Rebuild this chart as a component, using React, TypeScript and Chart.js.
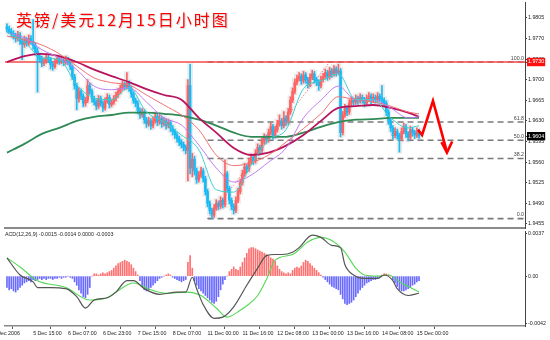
import React, { useEffect, useRef } from "react";
import { Chart, registerables } from "chart.js";

Chart.register(...registerables);

// ---------- price candles (hourly GBP/USD) ----------
const OPEN = [
  1.9790, 1.9786, 1.9782, 1.9778, 1.9774, 1.9770, 1.9776, 1.9765, 1.9760, 1.9768,
  1.9762, 1.9770, 1.9765, 1.9758, 1.9748, 1.9740, 1.9735, 1.9728, 1.9732, 1.9738,
  1.9734, 1.9726, 1.9722, 1.9730, 1.9736, 1.9731, 1.9733, 1.9729, 1.9735, 1.9730,
  1.9722, 1.9705, 1.9690, 1.9668, 1.9680, 1.9672, 1.9660, 1.9665, 1.9690, 1.9680,
  1.9668, 1.9662, 1.9655, 1.9668, 1.9660, 1.9652, 1.9664, 1.9670, 1.9658, 1.9662,
  1.9668, 1.9674, 1.9680, 1.9686, 1.9692, 1.9688, 1.9694, 1.9685, 1.9676, 1.9665,
  1.9660, 1.9648, 1.9640, 1.9645, 1.9632, 1.9625, 1.9630, 1.9622, 1.9630, 1.9638,
  1.9628, 1.9634, 1.9625, 1.9630, 1.9622, 1.9627, 1.9618, 1.9612, 1.9606, 1.9600,
  1.9594, 1.9590, 1.9585, 1.9580, 1.9690, 1.9550, 1.9565, 1.9545, 1.9530, 1.9538,
  1.9545, 1.9532, 1.9510, 1.9490, 1.9478, 1.9470, 1.9482, 1.9490, 1.9485, 1.9495,
  1.9488, 1.9540, 1.9515, 1.9495, 1.9485, 1.9478, 1.9495, 1.9510, 1.9525, 1.9540,
  1.9552, 1.9548, 1.9560, 1.9568, 1.9562, 1.9575, 1.9585, 1.9580, 1.9595, 1.9602,
  1.9598, 1.9610, 1.9620, 1.9605, 1.9615, 1.9625, 1.9630, 1.9622, 1.9635, 1.9628,
  1.9645, 1.9665, 1.9680, 1.9695, 1.9702, 1.9706, 1.9698, 1.9708, 1.9700, 1.9692,
  1.9704, 1.9710, 1.9700, 1.9696, 1.9690, 1.9700, 1.9705, 1.9712, 1.9705, 1.9715,
  1.9710, 1.9718, 1.9712, 1.9715, 1.9610, 1.9640, 1.9652, 1.9645, 1.9660, 1.9665,
  1.9662, 1.9668, 1.9664, 1.9670, 1.9666, 1.9660, 1.9668, 1.9672, 1.9665, 1.9670,
  1.9666, 1.9672, 1.9668, 1.9665, 1.9660, 1.9645, 1.9630, 1.9618, 1.9605, 1.9612,
  1.9605, 1.9600, 1.9612, 1.9620, 1.9608, 1.9602, 1.9615, 1.9610, 1.9606, 1.9612,
];
const HIGH = [
  1.9795, 1.9791, 1.9787, 1.9783, 1.9779, 1.9782, 1.9780, 1.9770, 1.9774, 1.9772,
  1.9776, 1.9775, 1.9802, 1.9762, 1.9754, 1.9745, 1.9740, 1.9737, 1.9743, 1.9742,
  1.9738, 1.9730, 1.9735, 1.9741, 1.9739, 1.9738, 1.9736, 1.9740, 1.9738, 1.9733,
  1.9725, 1.9709, 1.9694, 1.9686, 1.9684, 1.9676, 1.9670, 1.9700, 1.9694, 1.9684,
  1.9672, 1.9666, 1.9673, 1.9672, 1.9664, 1.9669, 1.9676, 1.9674, 1.9667, 1.9673,
  1.9679, 1.9685, 1.9691, 1.9698, 1.9696, 1.9712, 1.9698, 1.9689, 1.9680, 1.9669,
  1.9664, 1.9652, 1.9651, 1.9649, 1.9636, 1.9636, 1.9634, 1.9636, 1.9644, 1.9642,
  1.9640, 1.9638, 1.9636, 1.9634, 1.9633, 1.9631, 1.9622, 1.9616, 1.9610, 1.9604,
  1.9598, 1.9594, 1.9589, 1.9700, 1.9726, 1.9575, 1.9570, 1.9550, 1.9544, 1.9551,
  1.9549, 1.9536, 1.9514, 1.9494, 1.9482, 1.9488, 1.9496, 1.9494, 1.9501, 1.9499,
  1.9564, 1.9544, 1.9519, 1.9499, 1.9489, 1.9501, 1.9516, 1.9531, 1.9546, 1.9558,
  1.9556, 1.9566, 1.9574, 1.9572, 1.9581, 1.9591, 1.9589, 1.9601, 1.9608, 1.9606,
  1.9616, 1.9626, 1.9624, 1.9621, 1.9631, 1.9640, 1.9634, 1.9646, 1.9639, 1.9651,
  1.9671, 1.9686, 1.9701, 1.9708, 1.9712, 1.9710, 1.9714, 1.9712, 1.9704, 1.9710,
  1.9716, 1.9714, 1.9704, 1.9700, 1.9706, 1.9711, 1.9718, 1.9716, 1.9721, 1.9719,
  1.9724, 1.9722, 1.9726, 1.9719, 1.9646, 1.9658, 1.9656, 1.9666, 1.9671, 1.9669,
  1.9674, 1.9672, 1.9676, 1.9674, 1.9670, 1.9674, 1.9678, 1.9676, 1.9676, 1.9674,
  1.9678, 1.9676, 1.9690, 1.9669, 1.9664, 1.9649, 1.9634, 1.9622, 1.9618, 1.9616,
  1.9609, 1.9618, 1.9626, 1.9624, 1.9612, 1.9621, 1.9619, 1.9614, 1.9618, 1.9616,
];
const LOW = [
  1.9781, 1.9778, 1.9773, 1.9769, 1.9764, 1.9766, 1.9760, 1.9734, 1.9755, 1.9757,
  1.9758, 1.9760, 1.9752, 1.9742, 1.9679, 1.9730, 1.9722, 1.9724, 1.9728, 1.9729,
  1.9718, 1.9716, 1.9719, 1.9727, 1.9726, 1.9727, 1.9724, 1.9726, 1.9725, 1.9717,
  1.9700, 1.9684, 1.9649, 1.9662, 1.9666, 1.9654, 1.9655, 1.9661, 1.9675, 1.9662,
  1.9657, 1.9649, 1.9651, 1.9655, 1.9646, 1.9648, 1.9660, 1.9652, 1.9654, 1.9658,
  1.9664, 1.9670, 1.9676, 1.9682, 1.9683, 1.9684, 1.9680, 1.9670, 1.9660, 1.9654,
  1.9642, 1.9634, 1.9636, 1.9626, 1.9619, 1.9621, 1.9616, 1.9618, 1.9626, 1.9622,
  1.9624, 1.9619, 1.9621, 1.9616, 1.9618, 1.9612, 1.9606, 1.9600, 1.9594, 1.9588,
  1.9584, 1.9579, 1.9574, 1.9528, 1.9540, 1.9535, 1.9538, 1.9524, 1.9526, 1.9534,
  1.9526, 1.9504, 1.9484, 1.9472, 1.9464, 1.9466, 1.9478, 1.9479, 1.9481, 1.9482,
  1.9484, 1.9509, 1.9489, 1.9479, 1.9472, 1.9474, 1.9491, 1.9506, 1.9521, 1.9536,
  1.9542, 1.9544, 1.9556, 1.9556, 1.9558, 1.9571, 1.9574, 1.9576, 1.9591, 1.9592,
  1.9594, 1.9606, 1.9599, 1.9601, 1.9611, 1.9621, 1.9616, 1.9618, 1.9622, 1.9624,
  1.9641, 1.9661, 1.9676, 1.9691, 1.9698, 1.9692, 1.9694, 1.9694, 1.9686, 1.9688,
  1.9700, 1.9694, 1.9690, 1.9682, 1.9686, 1.9696, 1.9701, 1.9699, 1.9701, 1.9704,
  1.9706, 1.9706, 1.9708, 1.9603, 1.9606, 1.9636, 1.9639, 1.9641, 1.9656, 1.9656,
  1.9658, 1.9658, 1.9660, 1.9660, 1.9654, 1.9656, 1.9664, 1.9659, 1.9661, 1.9660,
  1.9662, 1.9662, 1.9659, 1.9654, 1.9639, 1.9624, 1.9612, 1.9599, 1.9601, 1.9599,
  1.9577, 1.9596, 1.9608, 1.9602, 1.9596, 1.9598, 1.9604, 1.9600, 1.9602, 1.9600,
];
const CLOSE = [
  1.9786, 1.9782, 1.9778, 1.9774, 1.9770, 1.9776, 1.9765, 1.9760, 1.9768, 1.9762,
  1.9770, 1.9765, 1.9758, 1.9748, 1.9740, 1.9735, 1.9728, 1.9732, 1.9738, 1.9734,
  1.9726, 1.9722, 1.9730, 1.9736, 1.9731, 1.9733, 1.9729, 1.9735, 1.9730, 1.9722,
  1.9705, 1.9690, 1.9668, 1.9680, 1.9672, 1.9660, 1.9665, 1.9690, 1.9680, 1.9668,
  1.9662, 1.9655, 1.9668, 1.9660, 1.9652, 1.9664, 1.9670, 1.9658, 1.9662, 1.9668,
  1.9674, 1.9680, 1.9686, 1.9692, 1.9688, 1.9694, 1.9685, 1.9676, 1.9665, 1.9660,
  1.9648, 1.9640, 1.9645, 1.9632, 1.9625, 1.9630, 1.9622, 1.9630, 1.9638, 1.9628,
  1.9634, 1.9625, 1.9630, 1.9622, 1.9627, 1.9618, 1.9612, 1.9606, 1.9600, 1.9594,
  1.9590, 1.9585, 1.9580, 1.9690, 1.9550, 1.9565, 1.9545, 1.9530, 1.9538, 1.9545,
  1.9532, 1.9510, 1.9490, 1.9478, 1.9470, 1.9482, 1.9490, 1.9485, 1.9495, 1.9488,
  1.9540, 1.9515, 1.9495, 1.9485, 1.9478, 1.9495, 1.9510, 1.9525, 1.9540, 1.9552,
  1.9548, 1.9560, 1.9568, 1.9562, 1.9575, 1.9585, 1.9580, 1.9595, 1.9602, 1.9598,
  1.9610, 1.9620, 1.9605, 1.9615, 1.9625, 1.9630, 1.9622, 1.9635, 1.9628, 1.9645,
  1.9665, 1.9680, 1.9695, 1.9702, 1.9706, 1.9698, 1.9708, 1.9700, 1.9692, 1.9704,
  1.9710, 1.9700, 1.9696, 1.9690, 1.9700, 1.9705, 1.9712, 1.9705, 1.9715, 1.9710,
  1.9718, 1.9712, 1.9715, 1.9610, 1.9640, 1.9652, 1.9645, 1.9660, 1.9665, 1.9662,
  1.9668, 1.9664, 1.9670, 1.9666, 1.9660, 1.9668, 1.9672, 1.9665, 1.9670, 1.9666,
  1.9672, 1.9668, 1.9665, 1.9660, 1.9645, 1.9630, 1.9618, 1.9605, 1.9612, 1.9605,
  1.9600, 1.9612, 1.9620, 1.9608, 1.9602, 1.9615, 1.9610, 1.9606, 1.9612, 1.9604,
];

// ---------- moving averages, read at every 8th bar ----------
const MA_INDEX = [0, 8, 16, 24, 32, 40, 48, 56, 64, 72, 80, 88, 96, 104, 112, 120, 128, 136, 144, 152, 160, 168, 176, 184, 189];
const MA_GREEN = [1.9576, 1.9591, 1.9608, 1.9618, 1.9630, 1.9637, 1.9640, 1.9644, 1.9644, 1.9642, 1.9639, 1.9632, 1.9622, 1.9610, 1.9603, 1.9603, 1.9603, 1.9610, 1.9620, 1.9628, 1.9632, 1.9633, 1.9635, 1.9635, 1.9635];
const MA_CRIMSON = [1.9730, 1.9740, 1.9744, 1.9740, 1.9730, 1.9717, 1.9706, 1.9696, 1.9684, 1.9674, 1.9666, 1.9635, 1.9610, 1.9584, 1.9572, 1.9576, 1.9588, 1.9606, 1.9630, 1.9652, 1.9655, 1.9657, 1.9652, 1.9644, 1.9637];
const MA_SALMON = [1.9774, 1.9768, 1.9759, 1.9744, 1.9723, 1.9703, 1.9695, 1.9691, 1.9674, 1.9657, 1.9640, 1.9615, 1.9572, 1.9554, 1.9559, 1.9572, 1.9594, 1.9617, 1.9642, 1.9671, 1.9666, 1.9662, 1.9655, 1.9645, 1.9642];
const MA_VIOLET = [1.9780, 1.9771, 1.9751, 1.9737, 1.9717, 1.9689, 1.9683, 1.9686, 1.9662, 1.9635, 1.9623, 1.9589, 1.9550, 1.9526, 1.9538, 1.9560, 1.9584, 1.9635, 1.9665, 1.9689, 1.9666, 1.9666, 1.9652, 1.9635, 1.9637];
const MA_CYAN = [1.9781, 1.9764, 1.9737, 1.9734, 1.9691, 1.9669, 1.9666, 1.9686, 1.9645, 1.9628, 1.9606, 1.9581, 1.9513, 1.9509, 1.9555, 1.9598, 1.9615, 1.9685, 1.9698, 1.9710, 1.9666, 1.9666, 1.9635, 1.9618, 1.9622];

// ---------- MACD(12,26,9) ----------
const MACD_HIST = [
  -0.0010, -0.0012, -0.0011, -0.0013, -0.0014, -0.0012, -0.0010, -0.0008, -0.0006, -0.0005,
  -0.0004, -0.0005, -0.0003, -0.0004, -0.0003, -0.0002, -0.0003, -0.0002, -0.0003, -0.0002,
  -0.0002, -0.0003, -0.0002, -0.0002, -0.0001, -0.0002, -0.0001, -0.0001, 0.0000, -0.0001,
  -0.0002, -0.0005, -0.0008, -0.0012, -0.0015, -0.0018, -0.0019, -0.0016, -0.0010, 0.0000,
  0.0002, 0.0002, 0.0001, 0.0002, 0.0003, 0.0002, 0.0003, 0.0004, 0.0005, 0.0007,
  0.0009, 0.0011, 0.0012, 0.0013, 0.0014, 0.0013, 0.0012, 0.0010, 0.0007, 0.0004,
  0.0001, -0.0004, -0.0009, -0.0012, -0.0013, -0.0012, -0.0010, -0.0008, -0.0006, -0.0004,
  -0.0002, -0.0001, 0.0000, 0.0001, 0.0002, 0.0001, -0.0001, -0.0002, -0.0003, -0.0004,
  -0.0005, -0.0004, -0.0003, 0.0012, 0.0018, 0.0007, -0.0004, -0.0008, -0.0011, -0.0013,
  -0.0015, -0.0017, -0.0019, -0.0021, -0.0023, -0.0024, -0.0022, -0.0018, -0.0012, -0.0007,
  -0.0003, 0.0000, 0.0004, 0.0006, 0.0008, 0.0006, 0.0005, 0.0008, 0.0012, 0.0016,
  0.0020, 0.0024, 0.0025, 0.0025, 0.0024, 0.0023, 0.0022, 0.0021, 0.0020, 0.0019,
  0.0018, 0.0016, 0.0015, 0.0013, 0.0009, 0.0006, 0.0004, 0.0003, 0.0002, 0.0003,
  0.0002, 0.0005, 0.0007, 0.0008, 0.0007, 0.0009, 0.0012, 0.0014, 0.0013, 0.0011,
  0.0009, 0.0007, 0.0005, 0.0003, 0.0001, -0.0001, -0.0003, -0.0005, -0.0007, -0.0009,
  -0.0010, -0.0011, -0.0012, -0.0016, -0.0020, -0.0024, -0.0025, -0.0024, -0.0023, -0.0021,
  -0.0018, -0.0015, -0.0012, -0.0010, -0.0008, -0.0006, -0.0005, -0.0004, -0.0003, -0.0003,
  -0.0002, -0.0001, 0.0001, 0.0002, 0.0002, 0.0001, 0.0000, -0.0003, -0.0006, -0.0009,
  -0.0012, -0.0013, -0.0013, -0.0012, -0.0011, -0.0010, -0.0008, -0.0007, -0.0005, -0.0004,
];
const MACD_INDEX = [0, 6, 12, 14, 20, 27, 32, 36, 40, 46, 50, 55, 58, 63, 70, 78, 82, 85, 87, 90, 95, 99, 104, 110, 115, 119, 123, 126, 131, 134, 140, 144, 149, 153, 155, 159, 164, 170, 173, 177, 179, 184, 189];
const MACD_MAIN = [0.0016, 0.0001, -0.0005, -0.0010, -0.0010, -0.0011, -0.0018, -0.0028, -0.0021, -0.0019, -0.0014, -0.0004, -0.0004, -0.0011, -0.0016, -0.0014, -0.0014, -0.0001, -0.0011, -0.0025, -0.0037, -0.0036, -0.0027, -0.0008, 0.0007, 0.0018, 0.0019, 0.0019, 0.0021, 0.0025, 0.0036, 0.0034, 0.0027, 0.0025, 0.0010, 0.0001, -0.0002, -0.0002, 0.0001, -0.0004, -0.0011, -0.0017, -0.0015];
const SIGNAL_INDEX = [0, 6, 14, 27, 38, 46, 50, 58, 66, 73, 82, 89, 96, 101, 107, 110, 115, 119, 123, 131, 138, 144, 150, 155, 160, 164, 170, 175, 181, 189];
const MACD_SIGNAL = [0.0016, 0.0008, -0.0004, -0.0010, -0.0021, -0.0019, -0.0014, -0.0006, -0.0012, -0.0015, -0.0014, -0.0017, -0.0028, -0.0036, -0.0030, -0.0026, -0.0017, -0.0003, 0.0014, 0.0019, 0.0030, 0.0034, 0.0030, 0.0021, 0.0007, 0.0001, 0.0000, 0.0001, -0.0006, -0.0014];
const MACD_LABEL = "MACD(12,26,9) -0.0015 -0.0014 0.0000 -0.0003";
const MACD_TICKS = [0.0037, 0, -0.0042];
const MACD_TICK_LABELS = ["0.0037", "0.00", "-0.0042"];

// ---------- axes ----------
const X_TICK_INDEX = [-6.5, 12, 28, 44, 60, 76, 92, 108, 124, 140, 156, 172, 188];
const X_TICK_LABELS = ["5 Dec 2006", "5 Dec 15:00", "6 Dec 07:00", "6 Dec 23:00", "7 Dec 15:00", "8 Dec 07:00", "11 Dec 00:00", "11 Dec 16:00", "12 Dec 08:00", "13 Dec 00:00", "13 Dec 16:00", "14 Dec 08:00", "15 Dec 00:00"];
const PRICE_TICKS = [1.9805, 1.977, 1.9735, 1.973, 1.97, 1.9665, 1.963, 1.9595, 1.9604, 1.956, 1.9525, 1.949, 1.9455];
const PRICE_MARK_RED = 1.973;
const PRICE_MARK_BLACK = 1.9604;

// ---------- drawn objects (fibonacci, lines, arrow) ----------
const FIB_LEVELS = [1.973, 1.9628, 1.9597, 1.9566, 1.9464];
const FIB_LABELS = ["100.0", "61.8", "50.0", "38.2", "0.0"];
const FIB_START = 92;
const FIB_TREND_X = [92, 148];
const FIB_TREND_Y = [1.9464, 1.973];
const HLINE_PRICE = 1.973;
const ARROW_X = [188.5, 190.4, 195.4, 201.8];
const ARROW_Y = [1.9615, 1.9606, 1.9664, 1.9577];
const ARROWHEAD_X = [199.3, 201.8, 204.2];
const ARROWHEAD_Y = [1.9594, 1.9576, 1.9595];

const TITLE = "英镑/美元12月15日小时图";

const X_MIN = -0.9;
const X_MAX = 237.6;
const PRICE_MIN = 1.9448;
const PRICE_MAX = 1.9832;
const MACD_MIN = -0.004376;
const MACD_MAX = 0.00396;

const UP = "#ff6262";
const DOWN = "#18baf5";
const TICK_FONT = { family: "Liberation Sans", size: 5.3 };

const pts = (xs: number[], ys: number[]) => xs.map((x, k) => ({ x, y: ys[k] }));

export default function App() {
  const mainRef = useRef<HTMLCanvasElement | null>(null);
  const macdRef = useRef<HTMLCanvasElement | null>(null);

  useEffect(() => {
    const idx = CLOSE.map((_, i) => i);
    const colors = idx.map((i) => (CLOSE[i] >= OPEN[i] ? UP : DOWN));

    const maLine = (data: number[], color: string, width: number, order: number) => ({
      type: "line",
      data: pts(MA_INDEX, data),
      borderColor: color,
      borderWidth: width,
      pointRadius: 0,
      cubicInterpolationMode: "monotone",
      order,
    });

    const fibSets = FIB_LEVELS.map((lv) => ({
      type: "line",
      data: [
        { x: FIB_START, y: lv },
        { x: X_MAX, y: lv },
      ],
      borderColor: "#7a7a7a",
      borderWidth: 1.6,
      borderDash: [6, 4],
      pointRadius: 0,
      order: 20,
    }));

    const fibTextPlugin = {
      id: "fibText",
      afterDatasetsDraw(chart: any) {
        const { ctx, chartArea, scales } = chart;
        ctx.save();
        ctx.font = '5.3px "Liberation Sans"';
        ctx.fillStyle = "#444";
        ctx.textAlign = "right";
        ctx.textBaseline = "bottom";
        FIB_LEVELS.forEach((lv, k) => {
          const y = scales.y.getPixelForValue(lv);
          ctx.fillText(FIB_LABELS[k], chartArea.right - 1, y - 1.2);
        });
        ctx.restore();
      },
    };

    const main = new Chart(mainRef.current as HTMLCanvasElement, {
      type: "bar",
      data: {
        datasets: [
          {
            type: "line",
            data: pts(ARROW_X, ARROW_Y),
            borderColor: "#ff0000",
            borderWidth: 2.6,
            pointRadius: 0,
            order: 0,
          },
          {
            type: "line",
            data: pts(ARROWHEAD_X, ARROWHEAD_Y),
            borderColor: "#ff0000",
            borderWidth: 2.6,
            pointRadius: 0,
            order: 0,
          },
          maLine(MA_CYAN, "#3fcfd0", 1, 1),
          maLine(MA_VIOLET, "#c07cf0", 1, 2),
          maLine(MA_SALMON, "#f07272", 1, 3),
          maLine(MA_CRIMSON, "#b8145e", 1.8, 4),
          maLine(MA_GREEN, "#2f8a55", 1.8, 5),
          {
            type: "bar",
            data: idx.map((i) => ({ x: i, y: [OPEN[i], CLOSE[i]] })),
            backgroundColor: colors,
            barThickness: 2,
            minBarLength: 1,
            grouped: false,
            order: 10,
          },
          {
            type: "bar",
            data: idx.map((i) => ({ x: i, y: [LOW[i], HIGH[i]] })),
            backgroundColor: colors,
            barThickness: 1,
            grouped: false,
            order: 11,
          },
          {
            type: "bar",
            data: idx.map((i) => ({ x: i, y: [LOW[i] - 0.0002, HIGH[i] + 0.0002] })),
            backgroundColor: "#ebebeb",
            barThickness: 5,
            grouped: false,
            order: 30,
          },
          {
            type: "line",
            data: pts(FIB_TREND_X, FIB_TREND_Y),
            borderColor: "#ff5050",
            borderWidth: 1,
            borderDash: [1, 2],
            pointRadius: 0,
            order: 19,
          },
          {
            type: "line",
            data: [
              { x: X_MIN, y: HLINE_PRICE },
              { x: X_MAX, y: HLINE_PRICE },
            ],
            borderColor: "#f44848",
            borderWidth: 1.6,
            pointRadius: 0,
            order: 18,
          },
          ...fibSets,
        ] as any,
      },
      options: {
        animation: false,
        responsive: false,
        maintainAspectRatio: false,
        events: [],
        layout: { padding: { left: 5, top: 2, right: 0, bottom: 0 }, autoPadding: false } as any,
        plugins: { legend: { display: false }, tooltip: { enabled: false } },
        scales: {
          x: {
            type: "linear",
            min: X_MIN,
            max: X_MAX,
            offset: false,
            grid: { display: false },
            border: { display: true, color: "#8a8a8a", width: 2 },
            ticks: { display: false },
            afterFit: (s: any) => {
              s.height = 2;
              s.paddingLeft = 0;
              s.paddingRight = 0;
            },
          },
          y: {
            position: "right",
            min: PRICE_MIN,
            max: PRICE_MAX,
            afterBuildTicks: (s: any) => {
              s.ticks = PRICE_TICKS.map((v) => ({ value: v }));
            },
            afterFit: (s: any) => {
              s.width = 25;
              s.paddingTop = 0;
              s.paddingBottom = 0;
            },
            grid: { display: true, drawOnChartArea: false, tickLength: 2, color: "#444" },
            border: { display: true, color: "#444", width: 1 },
            ticks: {
              autoSkip: false,
              font: TICK_FONT,
              padding: 1,
              color: (c: any) =>
                c.tick && (c.tick.value === PRICE_MARK_RED || c.tick.value === PRICE_MARK_BLACK) ? "#ffffff" : "#222",
              showLabelBackdrop: (c: any) =>
                !!c.tick && (c.tick.value === PRICE_MARK_RED || c.tick.value === PRICE_MARK_BLACK),
              backdropColor: (c: any) => (c.tick && c.tick.value === PRICE_MARK_RED ? "#ff1010" : "#000000"),
              backdropPadding: { top: 1, bottom: 1, left: 1, right: 1 },
              callback: (v: any) => Number(v).toFixed(4),
            } as any,
          },
        } as any,
      },
      plugins: [fibTextPlugin],
    });

    const macdLabelPlugin = {
      id: "macdLabel",
      afterDraw(chart: any) {
        const { ctx, chartArea } = chart;
        ctx.save();
        ctx.beginPath();
        ctx.rect(chartArea.left, chartArea.top, chartArea.right - chartArea.left, chartArea.bottom - chartArea.top);
        ctx.clip();
        ctx.font = '5.3px "Liberation Sans"';
        ctx.fillStyle = "#222";
        ctx.textAlign = "left";
        ctx.textBaseline = "middle";
        ctx.fillText(MACD_LABEL, chartArea.left - 4.4, chartArea.top + 4);
        ctx.restore();
      },
    };

    const macd = new Chart(macdRef.current as HTMLCanvasElement, {
      type: "bar",
      data: {
        datasets: [
          {
            type: "line",
            data: pts(MACD_INDEX, MACD_MAIN),
            borderColor: "#555555",
            borderWidth: 1.2,
            pointRadius: 0,
            cubicInterpolationMode: "monotone",
            order: 0,
          },
          {
            type: "line",
            data: pts(SIGNAL_INDEX, MACD_SIGNAL),
            borderColor: "#55d855",
            borderWidth: 1.1,
            pointRadius: 0,
            cubicInterpolationMode: "monotone",
            order: 1,
          },
          {
            type: "bar",
            data: MACD_HIST.map((v, i) => ({ x: i, y: v })),
            backgroundColor: MACD_HIST.map((v) => (v >= 0 ? "#ff7070" : "#6a6aff")),
            barThickness: 1,
            grouped: false,
            order: 5,
          },
        ] as any,
      },
      options: {
        animation: false,
        responsive: false,
        maintainAspectRatio: false,
        events: [],
        layout: { padding: { left: 5, top: 1, right: 0, bottom: 0 }, autoPadding: false } as any,
        plugins: { legend: { display: false }, tooltip: { enabled: false } },
        scales: {
          x: {
            type: "linear",
            min: X_MIN,
            max: X_MAX,
            offset: false,
            afterBuildTicks: (s: any) => {
              s.ticks = X_TICK_INDEX.map((v) => ({ value: v }));
            },
            afterFit: (s: any) => {
              s.height = 14;
              s.paddingLeft = 0;
              s.paddingRight = 0;
            },
            grid: { display: true, drawOnChartArea: false, tickLength: 3, color: "#555" },
            border: { display: true, color: "#8a8a8a", width: 1.5 },
            ticks: {
              autoSkip: false,
              maxRotation: 0,
              minRotation: 0,
              align: "start",
              padding: 1,
              font: TICK_FONT,
              color: "#222",
              callback: (_v: any, i: number) => X_TICK_LABELS[i],
            },
          },
          y: {
            position: "right",
            min: MACD_MIN,
            max: MACD_MAX,
            afterBuildTicks: (s: any) => {
              s.ticks = MACD_TICKS.map((v) => ({ value: v }));
            },
            afterFit: (s: any) => {
              s.width = 25;
              s.paddingTop = 0;
              s.paddingBottom = 0;
            },
            grid: { display: true, drawOnChartArea: false, tickLength: 2, color: "#444" },
            border: { display: true, color: "#444", width: 1 },
            ticks: {
              autoSkip: false,
              font: TICK_FONT,
              padding: 1,
              color: "#222",
              callback: (_v: any, i: number) => MACD_TICK_LABELS[i],
            },
          },
        } as any,
      },
      plugins: [macdLabelPlugin],
    });

    return () => {
      main.destroy();
      macd.destroy();
    };
  }, []);

  return (
    <div
      style={{
        position: "absolute",
        left: 0,
        top: 0,
        width: 550,
        height: 340,
        background: "#ffffff",
        overflow: "hidden",
      }}
    >
      <canvas ref={mainRef} width={550} height={230} style={{ position: "absolute", left: 0, top: 0, display: "block" }} />
      <canvas ref={macdRef} width={550} height={110} style={{ position: "absolute", left: 0, top: 230, display: "block" }} />
      <div
        style={{
          position: "absolute",
          left: 16,
          top: 10,
          fontFamily: '"Noto Sans CJK SC", sans-serif',
          fontSize: 16,
          lineHeight: "18px",
          letterSpacing: 2,
          color: "#ff0000",
          whiteSpace: "nowrap",
          textShadow: "1px 1px 1px rgba(0,0,0,0.18)",
        }}
      >
        {TITLE}
      </div>
    </div>
  );
}
